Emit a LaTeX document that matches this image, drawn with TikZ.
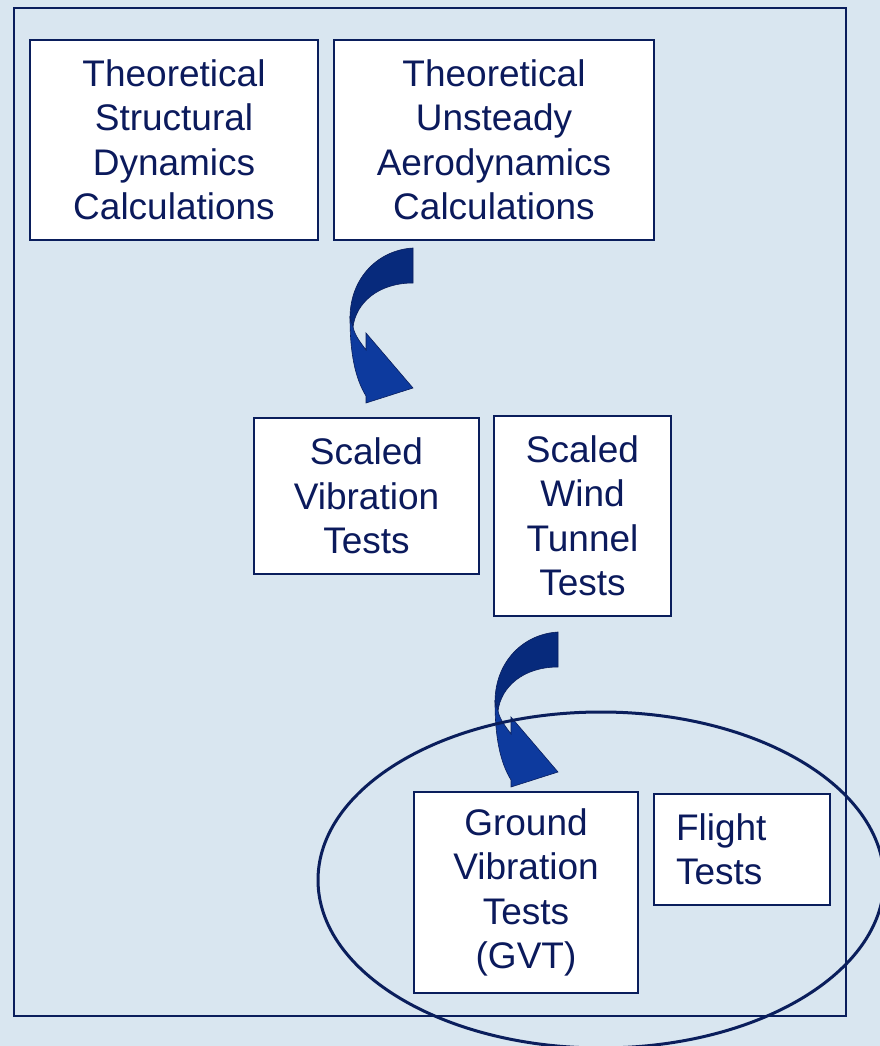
\documentclass[tikz,border=0pt]{standalone}
\usepackage{fontspec}
\setmainfont{Liberation Sans}
\definecolor{bg}{HTML}{D9E6F0}
\definecolor{navy}{HTML}{0B1A5C}
\definecolor{linenavy}{HTML}{0A1E5C}
\definecolor{arrowdark}{HTML}{072A7C}
\definecolor{arrowlight}{HTML}{0D3A9E}
\tikzset{
  x=1pt, y=-1pt,
  stepbox/.style={draw=linenavy, line width=1.6pt, fill=white, text=navy,
    align=center, inner sep=0pt,
    font=\fontsize{37}{44.5}\selectfont},
  frame/.style={draw=linenavy, line width=1.6pt},
  ring/.style={draw=linenavy, line width=3pt},
  curlarrow/.pic={
    % upper (front) face of the bent band
    \fill[arrowdark, draw=linenavy, line width=0.6pt]
      (0,0) .. controls (-35,2) and (-63,30) .. (-63,70)
      -- (-60,79) .. controls (-57,55) and (-35,35) .. (0,35) -- cycle;
    % lower (back) face with the head
    \fill[arrowlight, draw=linenavy, line width=0.6pt]
      (-63,70) .. controls (-63,105) and (-58,130) .. (-47,148)
      -- (-47,155) -- (0,140) -- (-47,85) -- (-47,102)
      .. controls (-52,95) and (-58,88) .. (-60,79) -- cycle;
  }
}
\begin{document}
\begin{tikzpicture}
\fill[bg] (0,0) rectangle (880,1046);
\useasboundingbox (0,0) rectangle (880,1046);
\draw[frame] (14,8) rectangle (846,1016);

\node[stepbox, minimum width=288, minimum height=200] (struct) at (174,140)
  {Theoretical\\Structural\\Dynamics\\Calculations};
\node[stepbox, minimum width=320, minimum height=200] (aero) at (494,140)
  {Theoretical\\Unsteady\\Aerodynamics\\Calculations};
\node[stepbox, minimum width=225, minimum height=156] (svt) at (366.5,496)
  {Scaled\\Vibration\\Tests};
\node[stepbox, minimum width=177, minimum height=200] (swt) at (582.5,516)
  {Scaled\\Wind\\Tunnel\\Tests};
\node[stepbox, minimum width=224, minimum height=201] (gvt) at (526,892.5)
  {Ground\\Vibration\\Tests\\(GVT)};
\node[stepbox, minimum width=176, minimum height=111, align=left,
      text width=132pt, inner xsep=22pt] (flight) at (742,849.5)
  {Flight\\Tests};

\coordinate (a1) at (413,248);
\coordinate (a2) at (558,632);
\pic at (a1) {curlarrow};
\pic at (a2) {curlarrow};

\draw[ring] (601,880) ellipse [x radius=283, y radius=168];
\end{tikzpicture}
\end{document}
